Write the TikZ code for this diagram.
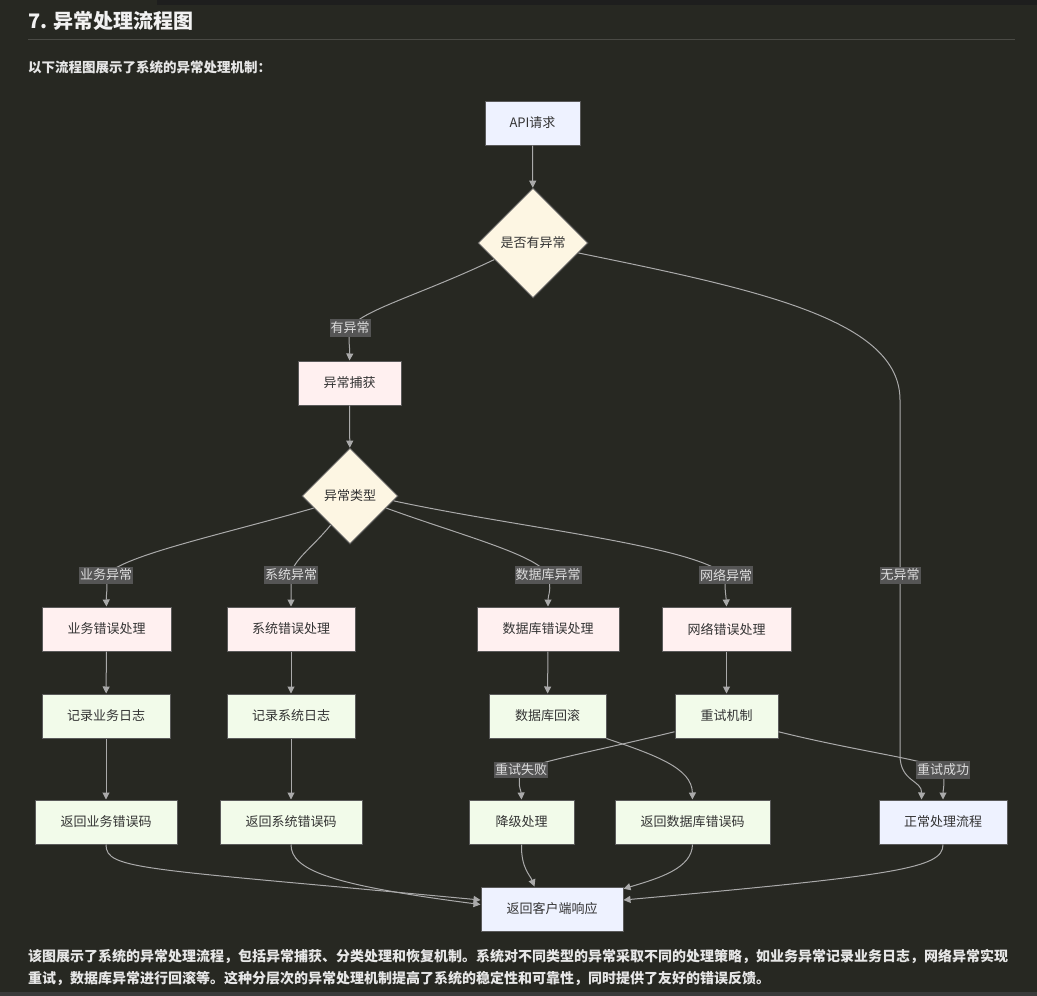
\documentclass[tikz,border=0pt]{standalone}
\usepackage{fontspec}
\setmainfont{Noto Sans CJK SC}
\usetikzlibrary{shapes.geometric,arrows.meta,calc}
\definecolor{pagebg}{HTML}{272822}
\definecolor{topbar}{HTML}{1E1E1E}
\definecolor{footbar}{HTML}{3A3A3A}
\definecolor{rulecol}{HTML}{4A4A45}
\definecolor{headtext}{HTML}{F2F2F2}
\definecolor{bodytext}{HTML}{E6E6E6}
\definecolor{nodetext}{HTML}{333333}
\definecolor{border}{HTML}{5A5A5A}
\definecolor{fillblue}{HTML}{EEF2FF}
\definecolor{fillcream}{HTML}{FDF6E3}
\definecolor{fillpink}{HTML}{FFF0F0}
\definecolor{fillgreen}{HTML}{F2FBEA}
\definecolor{edgecol}{HTML}{AAAAAA}
\definecolor{lblbg}{HTML}{555555}
\definecolor{lbltext}{HTML}{DDDDDD}
\begin{document}
\begin{tikzpicture}[x=1pt,y=-1pt,
  box/.style={draw=border, line width=1pt, minimum height=44, inner sep=0,
    text=nodetext, font=\fontsize{13}{15}\selectfont},
  startbox/.style={box, fill=fillblue},
  errbox/.style={box, fill=fillpink},
  actbox/.style={box, fill=fillgreen},
  decision/.style={diamond, draw=border, line width=1pt, fill=fillcream, inner sep=0,
    text=nodetext, font=\fontsize{13}{15}\selectfont},
  edge/.style={draw=edgecol, line width=1pt, -{Triangle[length=7pt,width=7pt]}},
  lbl/.style={fill=lblbg, text=lbltext, inner xsep=1pt, inner ysep=2.5pt,
    font=\fontsize{13}{15}\selectfont}]

% page
\fill[pagebg] (0,0) rectangle (1037,996);
\useasboundingbox (0,0) rectangle (1037,996);
\fill[topbar] (157,0) rectangle (1037,5);
\fill[footbar] (0,992) rectangle (1037,996);

% heading
\node[anchor=base west, inner sep=0, text=headtext,
  font=\bfseries\fontsize{20}{24}\selectfont] (title) at (28,28) {7. 异常处理流程图};
\draw[rulecol, line width=1pt] (28,39) -- (1015,39);
\node[anchor=base west, inner sep=0, text=bodytext,
  font=\bfseries\fontsize{13.5}{16}\selectfont] (intro) at (28,72) {以下流程图展示了系统的异常处理机制：};

% flowchart nodes
\node[startbox, minimum width=95] (api) at (532.5,123) {API请求};
\node[decision, minimum width=110, minimum height=110] (d1) at (533,243) {是否有异常};
\node[errbox, minimum width=103] (cap) at (349.5,383) {异常捕获};
\node[decision, minimum width=96, minimum height=96] (d2) at (350,496) {异常类型};

\node[errbox, minimum width=129] (biz) at (106.5,629) {业务错误处理};
\node[errbox, minimum width=128] (sys) at (291,629) {系统错误处理};
\node[errbox, minimum width=142] (db) at (548,629) {数据库错误处理};
\node[errbox, minimum width=129] (net) at (726.5,629) {网络错误处理};

\node[actbox, minimum width=128] (bizlog) at (106,716) {记录业务日志};
\node[actbox, minimum width=128] (syslog) at (291,716) {记录系统日志};
\node[actbox, minimum width=117] (rb) at (547.5,716) {数据库回滚};
\node[actbox, minimum width=103] (retry) at (726.5,716) {重试机制};

\node[actbox, minimum width=142] (bizret) at (106,822) {返回业务错误码};
\node[actbox, minimum width=142] (sysret) at (291,822) {返回系统错误码};
\node[actbox, minimum width=105] (deg) at (521.5,822) {降级处理};
\node[actbox, minimum width=155] (dbret) at (692.5,822) {返回数据库错误码};
\node[startbox, minimum width=128] (normal) at (943,822) {正常处理流程};
\node[startbox, minimum width=142] (resp) at (552,909) {返回客户端响应};

% label positions
\coordinate (lyes) at (350,328);
\coordinate (lno) at (900,575);
\coordinate (lbiz) at (106,575);
\coordinate (lsys) at (291,575);
\coordinate (ldb) at (548,575);
\coordinate (lnet) at (726,575);
\coordinate (lfail) at (521,770);
\coordinate (lok) at (943,770);

% connectors
\draw[edge] (api) -- (d1);
\draw[edge] ($(d1.west)!0.3!(d1.south)$) .. controls (420,295) and (362,310) .. (lyes)
  .. controls (348,342) and (350,348) .. (cap.north);
\draw[edge] ($(d1.east)!0.18!(d1.south)$) .. controls (760,290) and (900,320) .. (900,400)
  -- (lno) -- (900,755) .. controls (900,782) and (922,780) .. ($(normal.north west)+(43,0)$);
\draw[edge] (cap) -- (d2);

\draw[edge] ($(d2.west)!0.25!(d2.south)$) .. controls (220,535) and (125,555) .. (lbiz)
  .. controls (108,590) and (106,595) .. (biz.north);
\draw[edge] ($(d2.west)!0.6!(d2.south)$) .. controls (312,548) and (293,560) .. (lsys)
  -- (sys.north);
\draw[edge] ($(d2.east)!0.25!(d2.south)$) .. controls (460,535) and (538,555) .. (ldb)
  .. controls (552,590) and (548,595) .. (db.north);
\draw[edge] ($(d2.east)!0.1!(d2.south)$) .. controls (520,528) and (690,545) .. (lnet)
  .. controls (724,588) and (726,595) .. (net.north);

\draw[edge] (biz) -- (bizlog);
\draw[edge] (sys) -- (syslog);
\draw[edge] (db) -- (rb);
\draw[edge] (net) -- (retry);
\draw[edge] (bizlog) -- (bizret);
\draw[edge] (syslog) -- (sysret);
\draw[edge] (rb.south east) .. controls (655,755) and (692,768) .. (dbret.north);
\draw[edge] ($(retry.west)!0.7!(retry.south west)$) .. controls (600,750) and (545,760) .. (lfail)
  .. controls (517,785) and (521,790) .. (deg.north);
\draw[edge] ($(retry.east)!0.7!(retry.south east)$) .. controls (860,752) and (930,760) .. (lok)
  .. controls (945,785) and (943,790) .. (normal.north);

\draw[edge] (bizret.south) .. controls (106,870) and (140,868) .. ($(resp.north west)!0.3!(resp.south west)$);
\draw[edge] (sysret.south) .. controls (291,870) and (330,885) .. ($(resp.north west)!0.4!(resp.south west)$);
\draw[edge] (deg.south) .. controls (521,868) and (530,875) .. ($(resp.north west)+(54,0)$);
\draw[edge] (dbret.south) .. controls (692,868) and (660,878) .. ($(resp.north east)!0.05!(resp.south east)$);
\draw[edge] (normal.south) .. controls (943,868) and (900,875) .. ($(resp.north east)!0.3!(resp.south east)$);

% connector labels
\node[lbl] (tyes) at (lyes) {有异常};
\node[lbl] (tno) at (lno) {无异常};
\node[lbl] (tbiz) at (lbiz) {业务异常};
\node[lbl] (tsys) at (lsys) {系统异常};
\node[lbl] (tdb) at (ldb) {数据库异常};
\node[lbl] (tnet) at (lnet) {网络异常};
\node[lbl] (tfail) at (lfail) {重试失败};
\node[lbl] (tok) at (lok) {重试成功};

% closing paragraph
\node[anchor=base west, inner sep=0, text=bodytext,
  font=\bfseries\fontsize{14}{17}\selectfont] (para1) at (28,961)
  {该图展示了系统的异常处理流程，包括异常捕获、分类处理和恢复机制。系统对不同类型的异常采取不同的处理策略，如业务异常记录业务日志，网络异常实现};
\node[anchor=base west, inner sep=0, text=bodytext,
  font=\bfseries\fontsize{14}{17}\selectfont] (para2) at (28,983)
  {重试，数据库异常进行回滚等。这种分层次的异常处理机制提高了系统的稳定性和可靠性，同时提供了友好的错误反馈。};
\end{tikzpicture}
\end{document}
